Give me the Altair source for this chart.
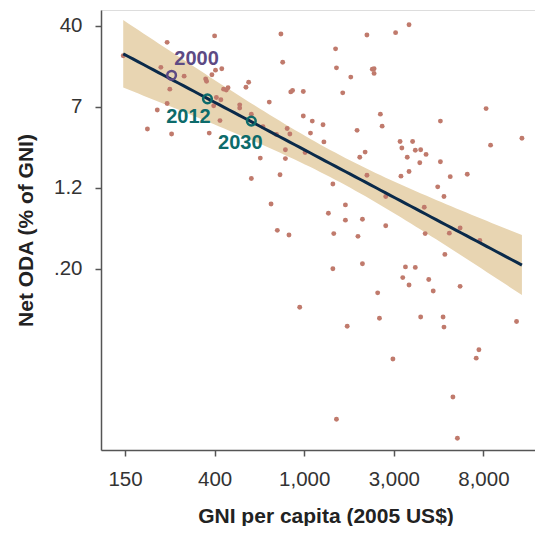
import numpy as np
import pandas as pd
import altair as alt

# Values, stored as natural logs (the chart is log-log)
ln_gni = [4.98, 5.47, 6.00, 6.74, 6.76, 5.40, 6.01, 6.08, 5.97, 5.66,
          5.90, 5.91, 6.38, 6.35, 6.10, 6.15, 6.13, 5.50, 6.87, 6.85,
          6.99, 6.02, 6.07, 5.47, 5.99, 6.61, 6.28, 6.28, 5.36, 6.41,
          6.06, 6.54, 5.25, 5.52, 5.94, 6.69, 6.81, 6.84, 6.99, 7.09,
          7.07, 6.79, 6.51, 6.79, 7.01, 6.41, 6.73, 8.17, 7.70, 8.02,
          7.35, 7.36, 7.76, 7.78, 7.78, 7.52, 7.43, 9.03, 7.85, 7.21,
          8.52, 7.87, 9.43, 7.59, 9.08, 7.22, 8.07, 8.21, 8.09, 8.24,
          8.30, 8.36, 7.68, 7.62, 8.15, 8.29, 8.52, 7.70, 8.08, 8.17,
          8.63, 8.82, 7.32, 8.49, 8.56, 7.91, 7.46, 7.27, 8.34, 7.46,
          7.65, 7.91, 7.33, 7.60, 8.35, 8.62, 8.74, 8.96, 8.57, 7.32,
          7.65, 8.13, 8.24, 8.10, 8.39, 8.17, 8.74, 8.44, 7.82, 6.95,
          7.84, 8.30, 8.55, 7.48, 8.56, 9.37, 6.63, 6.70, 6.83, 7.99,
          8.95, 8.92, 8.66, 7.36, 8.71]
ln_oda = [3.05, 3.34, 3.48, 3.52, 2.91, 2.80, 2.74, 2.77, 2.64, 2.61,
          2.55, 2.50, 2.48, 2.37, 2.33, 2.36, 2.31, 2.33, 2.30, 2.27,
          2.28, 2.15, 2.10, 2.02, 1.97, 2.05, 1.99, 1.92, 1.88, 1.79,
          1.65, 1.52, 1.47, 1.36, 1.38, 1.35, 1.48, 1.36, 1.75, 1.64,
          1.38, 1.02, 0.84, 0.83, 0.96, 0.40, 0.48, 3.72, 3.50, 3.55,
          3.20, 2.79, 2.76, 2.77, 2.67, 2.59, 2.25, 1.91, 1.79, 1.56,
          1.64, 1.53, 1.27, 1.44, 1.12, 1.19, 1.20, 1.20, 1.06, 1.01,
          1.02, 0.92, 0.97, 0.86, 0.86, 0.74, 0.76, 0.47, 0.45, 0.55,
          0.44, 0.49, 0.28, 0.22, 0.01, 0.01, -0.17, -0.35, -0.22, -0.50,
          -0.48, -0.62, -0.79, -0.85, -0.79, -0.78, -0.67, -0.94, -1.24, -1.55,
          -1.44, -1.51, -1.52, -1.74, -1.78, -1.90, -1.93, -2.03, -2.07, -2.38,
          -2.62, -2.59, -2.59, -2.79, -2.81, -2.69, -0.15, -0.72, -0.82, -3.50,
          -3.30, -3.48, -4.32, -4.80, -5.21]

hl_years = ["2000", "2012", "2030"]
hl_ln_gni = [5.52, 5.92, 6.41]
hl_ln_oda = [2.63, 2.12, 1.64]
hl_colors = ["#5d4a84", "#0d6b6b", "#0d6b6b"]
hl_dx = [25, -19, -11]
hl_dy = [-16, 18, 22]

x_tick_ln = [5, 6, 7, 8, 9]
x_tick_labels = ["150", "400", "1,000", "3,000", "8,000"]
y_tick_ln = [-1.55, 0.2, 1.95, 3.7]
y_tick_labels = [".20", "1.2", "7", "40"]

x_dom_ln = [4.732, 9.576]
y_dom_ln = [-5.464, 4.039]

FONT = "Liberation Sans"

pts = pd.DataFrame({"gni": np.exp(ln_gni), "oda": np.exp(ln_oda)})

# OLS fit of ln(ODA) on ln(GNI) with 95% CI of the mean
X = np.array(ln_gni)
Y = np.array(ln_oda)
n = len(X)
xb = X.mean()
Sxx = ((X - xb) ** 2).sum()
b1 = ((X - xb) * (Y - Y.mean())).sum() / Sxx
b0 = Y.mean() - b1 * xb
s = np.sqrt(((Y - (b0 + b1 * X)) ** 2).sum() / (n - 2))
grid = np.linspace(X.min(), X.max(), 80)
yhat = b0 + b1 * grid
se = s * np.sqrt(1.0 / n + (grid - xb) ** 2 / Sxx)
t = 1.979
fit = pd.DataFrame({"gni": np.exp(grid), "fit": np.exp(yhat),
                    "lo": np.exp(yhat - t * se), "hi": np.exp(yhat + t * se)})


def label_expr(tick_ln, labels):
    order = np.argsort(tick_ln)
    v = [float(np.exp(tick_ln[i])) for i in order]
    lab = [labels[i] for i in order]
    expr = f"'{lab[-1]}'"
    for i in reversed(range(len(v) - 1)):
        thr = float(np.sqrt(v[i] * v[i + 1]))
        expr = f"datum.value < {thr} ? '{lab[i]}' : ({expr})"
    return expr


xscale = alt.Scale(type="log", domain=[float(np.exp(d)) for d in x_dom_ln], nice=False)
yscale = alt.Scale(type="log", domain=[float(np.exp(d)) for d in y_dom_ln], nice=False)

axis_common = dict(grid=False, labelFont=FONT, labelFontSize=20.5, labelColor="#333333",
                   titleFont=FONT, titleFontSize=21, titleFontWeight="bold",
                   titleColor="#222222", tickSize=6, tickColor="#555555", tickWidth=1.5,
                   domainColor="#555555", domainWidth=1.5, labelPadding=13)

xaxis = alt.Axis(values=[float(np.exp(v)) for v in x_tick_ln],
                 labelExpr=label_expr(x_tick_ln, x_tick_labels),
                 title="GNI per capita (2005 US$)", titleX=224.5, titleY=72,
                 titleBaseline="alphabetic", titleAlign="center", **axis_common)
yaxis = alt.Axis(values=[float(np.exp(v)) for v in y_tick_ln],
                 labelExpr=label_expr(y_tick_ln, y_tick_labels),
                 title="Net ODA (% of GNI)", titleAngle=270, titleX=-69, titleY=220,
                 titleBaseline="alphabetic", titleAlign="center", **axis_common)

band = alt.Chart(fit).mark_area(color="#e8d5b2", opacity=1).encode(
    x=alt.X("gni:Q", scale=xscale, axis=xaxis),
    y=alt.Y("lo:Q", scale=yscale, axis=yaxis),
    y2="hi:Q",
)

dots = alt.Chart(pts).mark_circle(color="#c07a6c", size=24, opacity=1).encode(
    x=alt.X("gni:Q", scale=xscale),
    y=alt.Y("oda:Q", scale=yscale),
)

line = alt.Chart(fit).mark_line(color="#0a2a4a", strokeWidth=3).encode(
    x=alt.X("gni:Q", scale=xscale),
    y=alt.Y("fit:Q", scale=yscale),
)

layers = [band, dots, line]
for i, yr in enumerate(hl_years):
    d = pd.DataFrame({"gni": [float(np.exp(hl_ln_gni[i]))],
                      "oda": [float(np.exp(hl_ln_oda[i]))], "year": [yr]})
    layers.append(alt.Chart(d).mark_point(filled=False, size=75, strokeWidth=2.5,
                                          color=hl_colors[i], opacity=1).encode(
        x=alt.X("gni:Q", scale=xscale), y=alt.Y("oda:Q", scale=yscale)))
    layers.append(alt.Chart(d).mark_text(font=FONT, fontSize=20, fontWeight="bold",
                                         color=hl_colors[i], dx=hl_dx[i], dy=hl_dy[i],
                                         align="center", baseline="middle").encode(
        x=alt.X("gni:Q", scale=xscale), y=alt.Y("oda:Q", scale=yscale), text="year:N"))

chart = alt.layer(*layers).properties(
    width=434, height=440,
    autosize=alt.AutoSizeParams(type="none"),
    padding={"left": 93, "top": 2, "right": 0, "bottom": 76},
).configure_view(stroke=None).configure(font=FONT)

chart.save("out.html", embed_options={"renderer": "svg", "actions": False})
